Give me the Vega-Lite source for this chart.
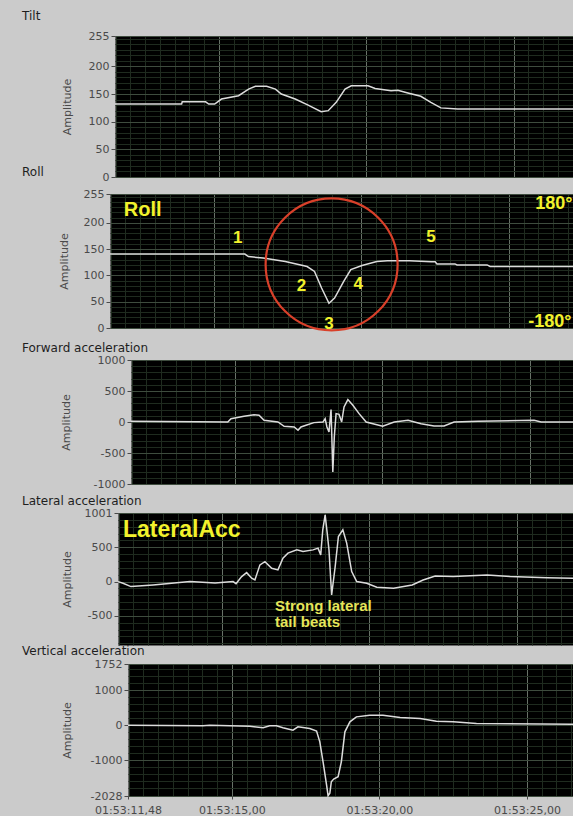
{
  "$schema": "https://vega.github.io/schema/vega-lite/v6.json",
  "background": "#cbcbcb",
  "padding": {"left": 1, "top": 9, "right": 0, "bottom": 0},
  "spacing": {"row": -20, "column": 0},
  "columns": 2,
  "align": "none",
  "datasets": {
    "spacer": [{"k": 0}],
    "tilt": [
      {"t": 11.48, "v": 132}, {"t": 13.74, "v": 132}, {"t": 13.76, "v": 136}, {"t": 14.55, "v": 136},
      {"t": 14.66, "v": 132}, {"t": 14.86, "v": 132}, {"t": 15.09, "v": 141}, {"t": 15.67, "v": 147},
      {"t": 16.01, "v": 159}, {"t": 16.24, "v": 164}, {"t": 16.62, "v": 164}, {"t": 16.92, "v": 159},
      {"t": 17.12, "v": 150}, {"t": 17.59, "v": 141}, {"t": 18.03, "v": 130}, {"t": 18.47, "v": 118},
      {"t": 18.71, "v": 120}, {"t": 18.98, "v": 135}, {"t": 19.28, "v": 159}, {"t": 19.49, "v": 165},
      {"t": 20.06, "v": 165}, {"t": 20.3, "v": 160}, {"t": 20.84, "v": 156}, {"t": 21.07, "v": 157},
      {"t": 21.41, "v": 152}, {"t": 21.85, "v": 146}, {"t": 22.19, "v": 135}, {"t": 22.53, "v": 125},
      {"t": 23.1, "v": 123}, {"t": 25.37, "v": 123}, {"t": 27.01, "v": 123}
    ],
    "roll": [
      {"t": 11.48, "v": 140.6}, {"t": 16.05, "v": 140.6}, {"t": 16.17, "v": 136}, {"t": 16.67, "v": 133},
      {"t": 17.42, "v": 126.6}, {"t": 18.16, "v": 117}, {"t": 18.41, "v": 107.6}, {"t": 18.65, "v": 76},
      {"t": 18.9, "v": 47}, {"t": 19.09, "v": 57}, {"t": 19.4, "v": 88.6}, {"t": 19.64, "v": 111},
      {"t": 20.02, "v": 119}, {"t": 20.52, "v": 126.6}, {"t": 20.88, "v": 128}, {"t": 21.63, "v": 128},
      {"t": 22.37, "v": 126}, {"t": 22.5, "v": 126}, {"t": 22.56, "v": 122}, {"t": 23.17, "v": 122},
      {"t": 23.24, "v": 120}, {"t": 24.26, "v": 120}, {"t": 24.36, "v": 117}, {"t": 27.17, "v": 117}
    ],
    "rollNotes": [
      {"t": 15.81, "v": 171, "label": "1"}, {"t": 17.97, "v": 80, "label": "2"},
      {"t": 18.9, "v": 8, "label": "3"}, {"t": 19.89, "v": 84, "label": "4"},
      {"t": 22.36, "v": 173, "label": "5"}
    ],
    "rollSide": [
      {"t": 25.89, "v": 236, "label": "180°"}, {"t": 25.65, "v": 11, "label": "-180°"}
    ],
    "forward": [
      {"t": 11.48, "v": 11}, {"t": 14.76, "v": 0}, {"t": 14.87, "v": 54}, {"t": 15.31, "v": 91},
      {"t": 15.65, "v": 118}, {"t": 15.82, "v": 108}, {"t": 15.99, "v": 27}, {"t": 16.46, "v": 0},
      {"t": 16.67, "v": -69}, {"t": 17.01, "v": -80}, {"t": 17.14, "v": -134}, {"t": 17.24, "v": -80},
      {"t": 17.41, "v": -53}, {"t": 17.68, "v": -10}, {"t": 17.99, "v": 0}, {"t": 18.06, "v": 54},
      {"t": 18.12, "v": -80}, {"t": 18.19, "v": -161}, {"t": 18.26, "v": 200}, {"t": 18.32, "v": -806},
      {"t": 18.37, "v": -242}, {"t": 18.43, "v": 135}, {"t": 18.53, "v": 124}, {"t": 18.62, "v": 0},
      {"t": 18.7, "v": 242}, {"t": 18.83, "v": 361}, {"t": 19.0, "v": 269}, {"t": 19.21, "v": 135},
      {"t": 19.45, "v": 0}, {"t": 20.01, "v": -69}, {"t": 20.4, "v": 0}, {"t": 20.87, "v": 27},
      {"t": 21.31, "v": -27}, {"t": 21.75, "v": -65}, {"t": 22.09, "v": -65}, {"t": 22.43, "v": 0},
      {"t": 23.24, "v": 11}, {"t": 25.14, "v": 27}, {"t": 25.38, "v": 0}, {"t": 26.46, "v": 0}
    ],
    "lateral": [
      {"t": 11.48, "v": 0}, {"t": 11.65, "v": -24}, {"t": 11.92, "v": -73}, {"t": 12.67, "v": -49},
      {"t": 13.92, "v": 0}, {"t": 14.77, "v": -20}, {"t": 15.38, "v": 0}, {"t": 15.48, "v": -30},
      {"t": 15.67, "v": 73}, {"t": 15.84, "v": 131}, {"t": 16.01, "v": 49}, {"t": 16.12, "v": 25},
      {"t": 16.29, "v": 244}, {"t": 16.46, "v": 292}, {"t": 16.69, "v": 195}, {"t": 16.9, "v": 171},
      {"t": 17.07, "v": 342}, {"t": 17.24, "v": 415}, {"t": 17.54, "v": 463}, {"t": 17.75, "v": 439},
      {"t": 18.09, "v": 463}, {"t": 18.26, "v": 488}, {"t": 18.35, "v": 390}, {"t": 18.42, "v": 756},
      {"t": 18.5, "v": 975}, {"t": 18.57, "v": 707}, {"t": 18.63, "v": 463}, {"t": 18.72, "v": -195},
      {"t": 18.84, "v": 219}, {"t": 18.95, "v": 658}, {"t": 19.1, "v": 756}, {"t": 19.23, "v": 561},
      {"t": 19.4, "v": 146}, {"t": 19.57, "v": 0}, {"t": 19.91, "v": -24}, {"t": 20.25, "v": -82},
      {"t": 20.82, "v": -97}, {"t": 21.45, "v": -49}, {"t": 21.82, "v": 24}, {"t": 22.23, "v": 83},
      {"t": 22.84, "v": 73}, {"t": 23.99, "v": 97}, {"t": 24.77, "v": 73}, {"t": 26.02, "v": 58},
      {"t": 26.9, "v": 49}
    ],
    "lateralNotes": [
      {"t": 16.8, "v": -355, "label": "Strong lateral"}, {"t": 16.8, "v": -590, "label": "tail beats"}
    ],
    "vertical": [
      {"t": 11.48, "v": 0}, {"t": 14.02, "v": -19}, {"t": 14.25, "v": 0}, {"t": 15.61, "v": -29},
      {"t": 16.06, "v": -76}, {"t": 16.28, "v": -19}, {"t": 16.51, "v": -19}, {"t": 16.73, "v": -76},
      {"t": 17.07, "v": -143}, {"t": 17.24, "v": -48}, {"t": 17.64, "v": -95}, {"t": 17.87, "v": -171},
      {"t": 17.98, "v": -476}, {"t": 18.09, "v": -1048}, {"t": 18.21, "v": -1714}, {"t": 18.26, "v": -2020},
      {"t": 18.32, "v": -1950}, {"t": 18.37, "v": -1619}, {"t": 18.45, "v": -1543}, {"t": 18.6, "v": -1476},
      {"t": 18.71, "v": -1048}, {"t": 18.83, "v": -190}, {"t": 19.0, "v": 95}, {"t": 19.22, "v": 238},
      {"t": 19.67, "v": 286}, {"t": 20.12, "v": 286}, {"t": 20.7, "v": 219}, {"t": 21.38, "v": 190},
      {"t": 21.93, "v": 114}, {"t": 22.5, "v": 95}, {"t": 23.29, "v": 48}, {"t": 26.56, "v": 29}
    ]
  },
  "config": {
    "view": {"fill": "#000000", "stroke": "#6a6a6a", "strokeWidth": 1},
    "axis": {
      "labelFont": "DejaVu Sans", "labelFontSize": 11, "labelColor": "#4a4a4a",
      "titleFont": "DejaVu Sans", "titleFontSize": 11, "titleFontWeight": "normal", "titleColor": "#4a4a4a",
      "tickColor": "#4a4a4a", "domain": false, "labelFlush": false, "labelOverlap": false
    },
    "title": {"font": "DejaVu Sans", "fontSize": 12, "fontWeight": "normal", "color": "#1e1e1e", "anchor": "start", "frame": "bounds"},
    "line": {"color": "#dcdcdc", "strokeWidth": 1.5, "clip": true}
  },
  "concat": [
    {"width": 0, "height": 100, "view": {"fill": null, "stroke": null}, "data": {"name": "spacer"}, "mark": {"type": "point", "opacity": 0, "size": 0}},
    {
      "width": 458, "height": 141,
      "title": {"text": "Tilt", "dx": -39, "offset": 7.5},
      "data": {"name": "tilt"},
      "layer": [
        {"mark": {"type": "line", "opacity": 0},
          "encoding": {
            "x": {"field": "t", "type": "quantitative", "scale": {"domain": [11.48, 27.01], "nice": false, "zero": false},
              "axis": {"orient": "top", "values": [11.5,12,12.5,13,13.5,14,14.5,15.5,16,16.5,17,17.5,18,18.5,19,19.5,20.5,21,21.5,22,22.5,23,23.5,24,24.5,25.5,26,26.5,27], "labels": false, "ticks": false, "grid": true, "gridColor": "#1f2b1f", "title": null}},
            "y": {"field": "v", "type": "quantitative", "scale": {"domain": [0, 255], "nice": false, "zero": false},
              "axis": {"orient": "right", "values": [10,20,30,40,60,70,80,90,110,120,130,140,160,170,180,190,210,220,230,240,250], "labels": false, "ticks": false, "grid": true, "gridColor": "#1f2b1f", "title": null}}
          }},
        {"mark": "line",
          "encoding": {
            "x": {"field": "t", "type": "quantitative", "scale": {"domain": [11.48, 27.01], "nice": false, "zero": false},
              "axis": {"orient": "bottom", "values": [15, 20, 25], "labels": false, "tickSize": 7, "tickOpacity": 0, "grid": true, "gridColor": "#687268", "title": null}},
            "y": {"field": "v", "type": "quantitative", "scale": {"domain": [0, 255], "nice": false, "zero": false},
              "axis": {"orient": "left", "values": [0, 50, 100, 150, 200, 255], "labelExpr": "'' + datum.value", "tickSize": 4, "labelPadding": 2, "grid": true, "gridColor": "#3e4c3e", "title": "Amplitude", "titlePadding": 2, "minExtent": 41, "maxExtent": 41}}
          }}
      ],
      "resolve": {"axis": {"x": "independent", "y": "independent"}}
    },
    {"width": 0, "height": 100, "view": {"fill": null, "stroke": null}, "data": {"name": "spacer"}, "mark": {"type": "point", "opacity": 0, "size": 0}},
    {
      "width": 463, "height": 134,
      "title": {"text": "Roll", "dx": -36, "offset": 9.5},
      "data": {"name": "roll"},
      "layer": [
        {"mark": {"type": "line", "opacity": 0},
          "encoding": {
            "x": {"field": "t", "type": "quantitative", "scale": {"domain": [11.48, 27.17], "nice": false, "zero": false},
              "axis": {"orient": "top", "values": [11.5,12,12.5,13,13.5,14,14.5,15.5,16,16.5,17,17.5,18,18.5,19,19.5,20.5,21,21.5,22,22.5,23,23.5,24,24.5,25.5,26,26.5,27], "labels": false, "ticks": false, "grid": true, "gridColor": "#1f2b1f", "title": null}},
            "y": {"field": "v", "type": "quantitative", "scale": {"domain": [0, 255], "nice": false, "zero": false},
              "axis": {"orient": "right", "values": [10,20,30,40,60,70,80,90,110,120,130,140,160,170,180,190,210,220,230,240,250], "labels": false, "ticks": false, "grid": true, "gridColor": "#1f2b1f", "title": null}}
          }},
        {"mark": "line",
          "encoding": {
            "x": {"field": "t", "type": "quantitative", "scale": {"domain": [11.48, 27.17], "nice": false, "zero": false},
              "axis": {"orient": "bottom", "values": [15, 20, 25], "labels": false, "tickSize": 32, "tickOpacity": 0, "grid": true, "gridColor": "#687268", "title": null}},
            "y": {"field": "v", "type": "quantitative", "scale": {"domain": [0, 255], "nice": false, "zero": false},
              "axis": {"orient": "left", "values": [0, 50, 100, 150, 200, 255], "labelExpr": "'' + datum.value", "tickSize": 4, "labelPadding": 2, "grid": true, "gridColor": "#3e4c3e", "title": "Amplitude", "titlePadding": 2, "minExtent": 39, "maxExtent": 39}}
          }},
        {"data": {"values": [{"t": 18.99, "v": 121}]},
          "mark": {"type": "point", "shape": "circle", "filled": false, "stroke": "#d9402a", "strokeWidth": 2.2, "size": 17424, "opacity": 1},
          "encoding": {
            "x": {"field": "t", "type": "quantitative", "axis": null},
            "y": {"field": "v", "type": "quantitative", "axis": null}
          }},
        {"data": {"values": [{"t": 11.95, "v": 224.5, "label": "Roll"}]},
          "mark": {"type": "text", "align": "left", "baseline": "middle", "font": "Liberation Sans", "fontWeight": "bold", "fontSize": 20, "color": "#f2f22c"},
          "encoding": {
            "x": {"field": "t", "type": "quantitative", "axis": null},
            "y": {"field": "v", "type": "quantitative", "axis": null},
            "text": {"field": "label"}
          }},
        {"data": {"name": "rollNotes"},
          "mark": {"type": "text", "align": "center", "baseline": "middle", "font": "Liberation Sans", "fontWeight": "bold", "fontSize": 17, "color": "#f2f22c"},
          "encoding": {
            "x": {"field": "t", "type": "quantitative", "axis": null},
            "y": {"field": "v", "type": "quantitative", "axis": null},
            "text": {"field": "label"}
          }},
        {"data": {"name": "rollSide"},
          "mark": {"type": "text", "align": "left", "baseline": "middle", "font": "Liberation Sans", "fontWeight": "bold", "fontSize": 18, "color": "#f2f22c", "clip": true},
          "encoding": {
            "x": {"field": "t", "type": "quantitative", "axis": null},
            "y": {"field": "v", "type": "quantitative", "axis": null},
            "text": {"field": "label"}
          }}
      ],
      "resolve": {"axis": {"x": "independent", "y": "independent"}}
    },
    {"width": 0, "height": 100, "view": {"fill": null, "stroke": null}, "data": {"name": "spacer"}, "mark": {"type": "point", "opacity": 0, "size": 0}},
    {
      "width": 442, "height": 124,
      "title": {"text": "Forward acceleration", "dx": -38, "offset": -0.5},
      "data": {"name": "forward"},
      "layer": [
        {"mark": {"type": "line", "opacity": 0},
          "encoding": {
            "x": {"field": "t", "type": "quantitative", "scale": {"domain": [11.48, 26.46], "nice": false, "zero": false},
              "axis": {"orient": "top", "values": [11.5,12,12.5,13,13.5,14,14.5,15.5,16,16.5,17,17.5,18,18.5,19,19.5,20.5,21,21.5,22,22.5,23,23.5,24,24.5,25.5,26], "labels": false, "ticks": false, "grid": true, "gridColor": "#1f2b1f", "title": null}},
            "y": {"field": "v", "type": "quantitative", "scale": {"domain": [-1000, 1000], "nice": false, "zero": false},
              "axis": {"orient": "right", "values": [-900,-800,-700,-600,-400,-300,-200,-100,100,200,300,400,600,700,800,900], "labels": false, "ticks": false, "grid": true, "gridColor": "#1f2b1f", "title": null}}
          }},
        {"mark": "line",
          "encoding": {
            "x": {"field": "t", "type": "quantitative", "scale": {"domain": [11.48, 26.46], "nice": false, "zero": false},
              "axis": {"orient": "bottom", "values": [15, 20, 25], "labels": false, "tickSize": 29, "tickOpacity": 0, "grid": true, "gridColor": "#687268", "title": null}},
            "y": {"field": "v", "type": "quantitative", "scale": {"domain": [-1000, 1000], "nice": false, "zero": false},
              "axis": {"orient": "left", "values": [-1000, -500, 0, 500, 1000], "labelExpr": "'' + datum.value", "tickSize": 4, "labelPadding": 2, "grid": true, "gridColor": "#3e4c3e", "title": "Amplitude", "titlePadding": 2, "minExtent": 58, "maxExtent": 58}}
          }}
      ],
      "resolve": {"axis": {"x": "independent", "y": "independent"}}
    },
    {"width": 0, "height": 100, "view": {"fill": null, "stroke": null}, "data": {"name": "spacer"}, "mark": {"type": "point", "opacity": 0, "size": 0}},
    {
      "width": 455, "height": 132,
      "title": {"text": "Lateral acceleration", "dx": -39, "offset": -0.7},
      "data": {"name": "lateral"},
      "layer": [
        {"mark": {"type": "line", "opacity": 0},
          "encoding": {
            "x": {"field": "t", "type": "quantitative", "scale": {"domain": [11.48, 26.9], "nice": false, "zero": false},
              "axis": {"orient": "top", "values": [11.5,12,12.5,13,13.5,14,14.5,15.5,16,16.5,17,17.5,18,18.5,19,19.5,20.5,21,21.5,22,22.5,23,23.5,24,24.5,25.5,26,26.5], "labels": false, "ticks": false, "grid": true, "gridColor": "#1f2b1f", "title": null}},
            "y": {"field": "v", "type": "quantitative", "scale": {"domain": [-925, 1001], "nice": false, "zero": false},
              "axis": {"orient": "right", "values": [-900,-800,-700,-600,-400,-300,-200,-100,100,200,300,400,600,700,800,900], "labels": false, "ticks": false, "grid": true, "gridColor": "#1f2b1f", "title": null}}
          }},
        {"mark": "line",
          "encoding": {
            "x": {"field": "t", "type": "quantitative", "scale": {"domain": [11.48, 26.9], "nice": false, "zero": false},
              "axis": {"orient": "bottom", "values": [15, 20, 25], "labels": false, "tickSize": 18, "tickOpacity": 0, "grid": true, "gridColor": "#687268", "title": null}},
            "y": {"field": "v", "type": "quantitative", "scale": {"domain": [-925, 1001], "nice": false, "zero": false},
              "axis": {"orient": "left", "values": [-500, 0, 500, 1001], "labelExpr": "'' + datum.value", "tickSize": 4, "labelPadding": 2, "grid": true, "gridColor": "#3e4c3e", "title": "Amplitude", "titlePadding": 2, "minExtent": 44, "maxExtent": 44}}
          }},
        {"data": {"values": [{"t": 11.65, "v": 756, "label": "LateralAcc"}]},
          "mark": {"type": "text", "align": "left", "baseline": "middle", "font": "Liberation Sans", "fontWeight": "bold", "fontSize": 23, "color": "#f2f22c"},
          "encoding": {
            "x": {"field": "t", "type": "quantitative", "axis": null},
            "y": {"field": "v", "type": "quantitative", "axis": null},
            "text": {"field": "label"}
          }},
        {"data": {"name": "lateralNotes"},
          "mark": {"type": "text", "align": "left", "baseline": "middle", "font": "Liberation Sans", "fontWeight": "bold", "fontSize": 15, "color": "#e6e65a"},
          "encoding": {
            "x": {"field": "t", "type": "quantitative", "axis": null},
            "y": {"field": "v", "type": "quantitative", "axis": null},
            "text": {"field": "label"}
          }}
      ],
      "resolve": {"axis": {"x": "independent", "y": "independent"}}
    },
    {"width": 0, "height": 100, "view": {"fill": null, "stroke": null}, "data": {"name": "spacer"}, "mark": {"type": "point", "opacity": 0, "size": 0}},
    {
      "width": 445, "height": 132,
      "title": {"text": "Vertical acceleration", "dx": -39, "offset": 0.5},
      "data": {"name": "vertical"},
      "layer": [
        {"mark": {"type": "line", "opacity": 0},
          "encoding": {
            "x": {"field": "t", "type": "quantitative", "scale": {"domain": [11.48, 26.56], "nice": false, "zero": false},
              "axis": {"orient": "top", "values": [11.5,12,12.5,13,13.5,14,14.5,15.5,16,16.5,17,17.5,18,18.5,19,19.5,20.5,21,21.5,22,22.5,23,23.5,24,24.5,25.5,26,26.5], "labels": false, "ticks": false, "grid": true, "gridColor": "#1f2b1f", "title": null}},
            "y": {"field": "v", "type": "quantitative", "scale": {"domain": [-2028, 1752], "nice": false, "zero": false},
              "axis": {"orient": "right", "values": [-1800,-1600,-1400,-1200,-800,-600,-400,-200,200,400,600,800,1200,1400,1600], "labels": false, "ticks": false, "grid": true, "gridColor": "#1f2b1f", "title": null}}
          }},
        {"mark": "line",
          "encoding": {
            "x": {"field": "t", "type": "quantitative", "scale": {"domain": [11.48, 26.56], "nice": false, "zero": false},
              "axis": {"orient": "bottom", "values": [11.48, 15, 20, 25], "labelExpr": "'01:53:' + replace(format(datum.value, '05.2f'), '.', ',')", "tickSize": 3, "labelPadding": 5, "grid": true, "gridColor": "#687268", "gridOpacity": {"condition": {"test": "datum.value < 12", "value": 0}, "value": 1}, "title": null}},
            "y": {"field": "v", "type": "quantitative", "scale": {"domain": [-2028, 1752], "nice": false, "zero": false},
              "axis": {"orient": "left", "values": [-2028, -1000, 0, 1000, 1752], "labelExpr": "'' + datum.value", "tickSize": 4, "labelPadding": 2, "grid": true, "gridColor": "#3e4c3e", "title": "Amplitude", "titlePadding": 2, "minExtent": 54, "maxExtent": 54}}
          }}
      ],
      "resolve": {"axis": {"x": "independent", "y": "independent"}}
    }
  ]
}
